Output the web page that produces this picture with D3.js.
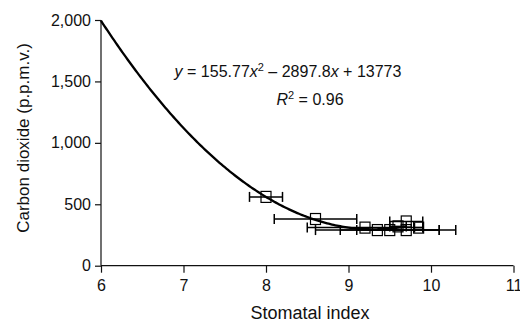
<!DOCTYPE html>
<html>
<head>
<meta charset="utf-8">
<script src="https://cdn.jsdelivr.net/npm/d3@7"></script>
<style>
body{margin:0;background:#fff;}
text{font-family:"Liberation Sans",Arial,sans-serif;fill:#111;}
</style>
</head>
<body>
<div id="chart"></div>
<script>
// points (stomatal index, CO2 ppmv, +/- error in index)
var xdata = [8.0, 8.6, 9.2, 9.35, 9.5, 9.6, 9.7, 9.7, 9.85]
var ydata = [560, 380, 310, 290, 290, 320, 360, 290, 310]
var xerr = [0.2, 0.5, 0.7, 0.75, 0.6, 0.1, 0.2, 0.6, 0.05]
var xticks = [6, 7, 8, 9, 10, 11]
var yticks = [0, 500, 1000, 1500, 2000]
var coef = [155.77, -2897.8, 13773]
var fitRange = [6, 9.7]

var width = 520, height = 323
var marge = {top:20, left:101, right:6.5, bottom:57.3}

var svg = d3.select('#chart').append('svg')
	.attr('width', width).attr('height', height)
var g = svg.append('g')
	.attr('transform', 'translate(' + marge.left + ',' + marge.top + ')')

var w = width - marge.left - marge.right
var h = height - marge.top - marge.bottom

var xScale = d3.scaleLinear().domain([6, 11]).range([0, w])
var yScale = d3.scaleLinear().domain([0, 2000]).range([h, 0])

var xAxis = d3.axisBottom(xScale).tickValues(xticks).tickSize(7).tickPadding(7).tickFormat(d3.format('d'))
var yAxis = d3.axisLeft(yScale).tickValues(yticks).tickSize(6).tickPadding(4).tickFormat(d3.format(','))

var gx = g.append('g').attr('transform', 'translate(0,' + h + ')').call(xAxis)
var gy = g.append('g').call(yAxis)
;[gx, gy].forEach(function(a){
	a.select('.domain').attr('stroke', '#111').attr('stroke-width', 1.2)
	a.selectAll('.tick line').attr('stroke', '#111').attr('stroke-width', 1.2)
	a.selectAll('.tick text').style('font-size', '16px').attr('fill', '#111')
})
// plain axis lines without end ticks
gx.select('.domain').attr('d', 'M0,0H' + w)
gy.select('.domain').attr('d', 'M0,0V' + h)

// fitted curve
var fit = function(x){ return coef[0]*x*x + coef[1]*x + coef[2] }
var xs = d3.range(fitRange[0], fitRange[1] + 0.001, 0.02)
g.append('path')
	.datum(xs)
	.attr('fill', 'none')
	.attr('stroke', '#000')
	.attr('stroke-width', 2.3)
	.attr('d', d3.line().x(function(d){ return xScale(d) }).y(function(d){ return yScale(fit(d)) }))

// error bars
var pts = g.selectAll('.pt').data(xdata).enter().append('g')
pts.append('line')
	.attr('x1', function(d,i){ return xScale(d - xerr[i]) })
	.attr('x2', function(d,i){ return xScale(d + xerr[i]) })
	.attr('y1', function(d,i){ return yScale(ydata[i]) })
	.attr('y2', function(d,i){ return yScale(ydata[i]) })
	.attr('stroke', '#000').attr('stroke-width', 1.5)
pts.each(function(d,i){
	var sel = d3.select(this)
	;[d - xerr[i], d + xerr[i]].forEach(function(v){
		sel.append('line')
			.attr('x1', xScale(v)).attr('x2', xScale(v))
			.attr('y1', yScale(ydata[i]) - 5).attr('y2', yScale(ydata[i]) + 5)
			.attr('stroke', '#000').attr('stroke-width', 1.5)
	})
})
pts.append('rect')
	.attr('x', function(d){ return xScale(d) - 5 })
	.attr('y', function(d,i){ return yScale(ydata[i]) - 5.5 })
	.attr('width', 10).attr('height', 11)
	.attr('fill', 'none').attr('stroke', '#000').attr('stroke-width', 1.2)

// equation
var eq = svg.append('text').attr('x', 288).attr('y', 77).attr('text-anchor', 'middle').style('font-size', '16px')
eq.append('tspan').style('font-style', 'italic').text('y')
eq.append('tspan').text(' = 155.77')
eq.append('tspan').style('font-style', 'italic').text('x')
eq.append('tspan').attr('dy', -6).style('font-size', '11px').text('2')
eq.append('tspan').attr('dy', 6).text(' \u2013 2897.8')
eq.append('tspan').style('font-style', 'italic').text('x')
eq.append('tspan').text(' + 13773')

var r2 = svg.append('text').attr('x', 310).attr('y', 105).attr('text-anchor', 'middle').style('font-size', '16px')
r2.append('tspan').style('font-style', 'italic').text('R')
r2.append('tspan').attr('dy', -6).style('font-size', '11px').text('2')
r2.append('tspan').attr('dy', 6).text(' = 0.96')

// axis titles
svg.append('text').attr('x', 310).attr('y', 319).attr('text-anchor', 'middle')
	.style('font-size', '18px').text('Stomatal index')
svg.append('text').attr('transform', 'translate(29,138) rotate(-90)').attr('text-anchor', 'middle')
	.style('font-size', '17px').text('Carbon dioxide (p.p.m.v.)')
</script>
</body>
</html>
